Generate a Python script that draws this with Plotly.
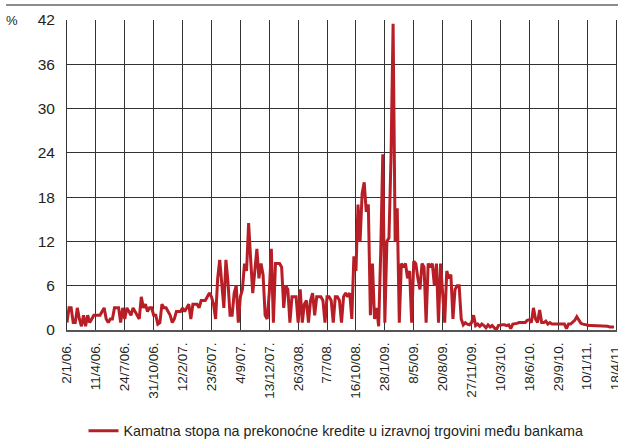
import plotly.graph_objects as go

# Tick labels (every 70 working days)
tick_labels = ["2/1/06.", "11/4/06.", "24/7/06.", "31/10/06.", "12/2/07.", "23/5/07.",
               "4/9/07.", "13/12/07.", "26/3/08.", "7/7/08.", "16/10/08.", "28/1/09.",
               "8/5/09.", "20/8/09.", "27/11/09.", "10/3/10.", "18/6/10.", "29/9/10.",
               "10/1/11.", "18/4/11."]
obs_per_label = 70
obs_step = 5  # one value every 5 working days (weekly readings)

# Overnight interbank rate, % (weekly samples)
rate = [
    1, 3, 3, 1, 1, 3, 1.5, 0.5, 2, 0.5, 2, 1, 1.5, 2,
    2, 2, 2, 2.5, 3, 1.5, 1, 1.5, 1.5, 3, 3, 3, 1, 3,
    1.5, 3, 2.5, 2, 3, 2.5, 2, 1.5, 4.5, 3, 3.5, 2.5, 3, 3,
    2, 2, 0.8, 1, 3.5, 3, 3, 2.5, 2, 1, 1.5, 2.5, 2.5, 2.5,
    3, 2.5, 3, 3.5, 1.5, 3.5, 3.5, 3.5, 3, 4, 4, 4, 4.5, 5,
    4.5, 3.5, 1.5, 7, 9.5, 6, 3, 9.5, 6.5, 2, 2, 5, 6, 1,
    4.5, 5.5, 9, 8, 14.5, 9.5, 5, 8, 11, 7, 9, 7.5, 2, 1.5,
    5, 11, 1, 9, 9, 9, 8.5, 3, 6, 5.5, 1, 4.5, 4.5, 4.5,
    1, 5.5, 1, 3.5, 4, 1, 4, 5, 2, 4.5, 4.5, 4.5, 4, 1,
    4.5, 4.5, 4, 1, 4.5, 4.5, 4, 1, 4.5, 5, 4.5, 5, 1.5, 10,
    8, 17, 12, 18.5, 20, 16, 17, 2, 9, 1.5, 3, 0.5, 10.5, 23.8,
    1, 12, 12.5, 23.5, 41.5, 12, 16.5, 1, 9, 8.5, 9, 7, 8, 1,
    9.3, 9, 7, 5.5, 9, 8.5, 1, 9, 8.5, 9, 6, 9, 1, 9,
    5, 1, 8, 7, 7.5, 1.5, 5.5, 6, 6, 1.5, 0.7, 1, 0.8, 0.7,
    1, 2, 0.6, 0.8, 0.5, 0.8, 0.6, 0.3, 0.7, 0.4, 0.6, 0.3, 0, 0.6,
    0.7, 0.7, 0.7, 0.6, 0.7, 0.2, 0.8, 0.8, 0.9, 1, 1, 1.1, 1, 1.3,
    1.4, 1, 3, 1.5, 1, 2.7, 1, 1, 1.2, 0.8, 1, 0.8, 0.8, 0.8,
    0.8, 0.8, 0.8, 0.8, 0.2, 0.8, 0.8, 1, 1.3, 1.8, 1.3, 0.9, 0.8, 0.7,
    0.6, 0.6, 0.6, 0.6, 0.6, 0.6, 0.6, 0.5, 0.5, 0.5, 0.5, 0.4, 0.4, 0.4,
]
y_ticks = [0, 6, 12, 18, 24, 30, 36, 42]
series_name = "Kamatna stopa na prekonoćne kredite u izravnoj trgovini među bankama"

x_obs = [i * obs_step for i in range(len(rate))]
tick_vals = [i * obs_per_label for i in range(len(tick_labels))]

FONT = "Liberation Sans Narrow, Arial Narrow, Liberation Sans, Arial, sans-serif"
GRID = "#333333"

fig = go.Figure()
fig.add_trace(go.Scatter(
    x=x_obs, y=rate, mode="lines", name=series_name,
    line=dict(color="#B81E26", width=3),
))

fig.update_layout(
    template="none",
    width=618, height=439,
    margin=dict(l=67, r=2, t=20, b=109, autoexpand=False),
    paper_bgcolor="white", plot_bgcolor="white",
    font=dict(family=FONT, color="#231F20"),
    showlegend=True,
    legend=dict(orientation="h", x=0.49, xanchor="center",
                y=-0.326, yanchor="middle",
                font=dict(size=14.3, family=FONT, color="#231F20"),
                itemwidth=30, bgcolor="rgba(0,0,0,0)"),
    xaxis=dict(
        range=[0, tick_vals[-1]], tickmode="array", tickvals=tick_vals, ticktext=tick_labels,
        tickangle=-90, tickfont=dict(size=13.5, family=FONT), ticks="",
        showgrid=True, gridcolor=GRID, gridwidth=1, automargin=False,
        showline=True, linecolor="#555555", linewidth=2, mirror=False,
        zeroline=False, ticklabelstandoff=5, ticklabeloverflow="allow",
    ),
    yaxis=dict(
        range=[0, 42], tickmode="array", tickvals=y_ticks,
        tickfont=dict(size=15.5, family=FONT), ticks="",
        showgrid=True, gridcolor=GRID, gridwidth=1, automargin=False,
        showline=True, linecolor=GRID, linewidth=1, mirror=True,
        zeroline=False, ticklabelstandoff=8,
    ),
)

fig.add_annotation(xref="paper", yref="paper", x=-0.1, y=1.0, text="%",
                   showarrow=False, xanchor="center", yanchor="middle",
                   font=dict(size=13, family=FONT, color="#231F20"))
fig.add_shape(type="line", xref="paper", yref="paper", x0=-0.111, x1=1.004,
              y0=1.048, y1=1.048, line=dict(color="#666666", width=1.5))

fig.write_html("out.html", config={"displayModeBar": False},
               post_script="document.body.style.margin='0';document.body.style.padding='0';")
